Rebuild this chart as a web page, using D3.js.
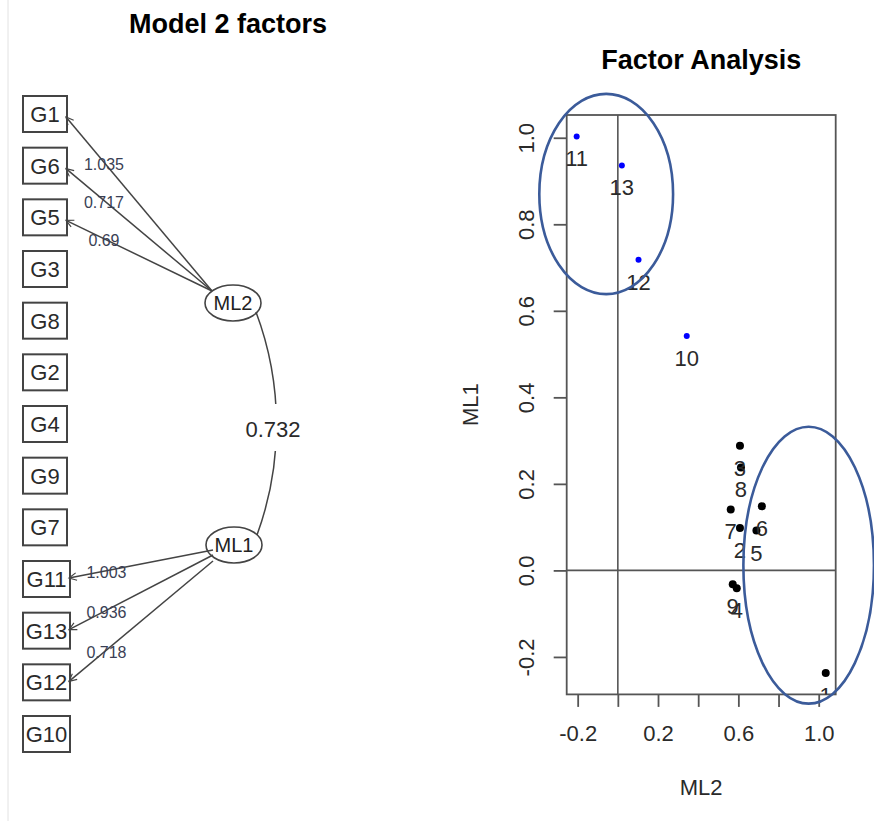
<!DOCTYPE html>
<html>
<head>
<meta charset="utf-8">
<script src="https://cdn.jsdelivr.net/npm/d3@7"></script>
<style>
  body { margin: 0; background: #fff; }
  svg { display: block; font-family: "Liberation Sans", Arial, sans-serif; }
</style>
</head>
<body>
<svg id="chart" width="874" height="821"></svg>
<script>
// left diagram: variable order top to bottom
const variables = ['G1', 'G6', 'G5', 'G3', 'G8', 'G2', 'G4', 'G9', 'G7', 'G11', 'G13', 'G12', 'G10']
const ml2Items = ['G1', 'G6', 'G5']
const ml2Loadings = [1.035, 0.717, 0.69]
const ml1Items = ['G11', 'G13', 'G12']
const ml1Loadings = [1.003, 0.936, 0.718]
const factorCor = 0.732

// right plot: loadings per item
const itemLabels = ['1', '2', '3', '4', '5', '6', '7', '8', '9', '10', '11', '12', '13']
const itemML2 = [1.035, 0.608, 0.608, 0.592, 0.69, 0.717, 0.562, 0.613, 0.572, 0.343, -0.205, 0.103, 0.02]
const itemML1 = [-0.237, 0.098, 0.288, -0.041, 0.092, 0.148, 0.141, 0.238, -0.032, 0.542, 1.003, 0.718, 0.936]
const itemGroup = [0, 0, 0, 0, 0, 0, 0, 0, 0, 1, 1, 1, 1]
const xTicks = [-0.2, 0, 0.2, 0.4, 0.6, 0.8, 1.0]
const xTickLabels = ['-0.2', '', '0.2', '', '0.6', '', '1.0']
const yTicks = [-0.2, 0, 0.2, 0.4, 0.6, 0.8, 1.0]
// highlight ellipses in data units: [cx, cy, rx, ry]
const ellipses = [[-0.058, 0.87, 0.333, 0.2315], [0.95, 0.012, 0.325, 0.32]]

const svg = d3.select('#chart')
const ink = '#444'

// ---------- LEFT: path diagram ----------
svg.append('line')
  .attr('x1', 8).attr('x2', 8).attr('y1', 0).attr('y2', 821)
  .attr('stroke', '#e2e2e2')

svg.append('text')
  .attr('x', 228).attr('y', 33)
  .attr('text-anchor', 'middle')
  .attr('font-weight', 'bold')
  .attr('font-size', 27)
  .text('Model 2 factors')

const rowY = d3.scalePoint().domain(variables).range([114, 734])

svg.append('defs').append('marker')
  .attr('id', 'arr')
  .attr('markerUnits', 'userSpaceOnUse')
  .attr('markerWidth', 20).attr('markerHeight', 20)
  .attr('viewBox', '-12 -10 24 20')
  .attr('orient', 'auto')
  .append('path')
  .attr('d', 'M-9,-4.5L0,0L-9,4.5')
  .attr('fill', 'none')
  .attr('stroke', ink)
  .attr('stroke-width', 1.4)

const boxW = d => d.length > 2 ? 47 : 44
const boxes = svg.append('g')
boxes.selectAll('rect')
  .data(variables)
  .enter()
  .append('rect')
  .attr('x', 23)
  .attr('y', d => rowY(d) - 18)
  .attr('width', boxW)
  .attr('height', 36)
  .attr('fill', 'none')
  .attr('stroke', ink)
  .attr('stroke-width', 2)
boxes.selectAll('text')
  .data(variables)
  .enter()
  .append('text')
  .attr('x', d => 23 + boxW(d) / 2)
  .attr('y', d => rowY(d))
  .attr('dy', '0.36em')
  .attr('text-anchor', 'middle')
  .attr('font-size', 22)
  .attr('fill', '#2a2a2a')
  .text(d => d)

const factors = [
  {name: 'ML2', cx: 233, cy: 303, items: ml2Items, loads: ml2Loadings, sx: 212, sy: [291, 291, 291]},
  {name: 'ML1', cx: 234, cy: 545, items: ml1Items, loads: ml1Loadings, sx: 213, sy: [550, 555, 561]}
]

// correlation arc between the two factors
const arcTop = [256, factors[0].cy + 9]
const arcBot = [257, factors[1].cy - 10]
svg.append('path')
  .attr('d', `M${arcTop[0]},${arcTop[1]}A321,321 0 0 1 ${arcBot[0]},${arcBot[1]}`)
  .attr('fill', 'none')
  .attr('stroke', ink)
  .attr('stroke-width', 1.5)
svg.append('rect')
  .attr('x', 243).attr('y', 404).attr('width', 62).attr('height', 47)
  .attr('fill', '#fff')
svg.append('text')
  .attr('x', 273).attr('y', 429)
  .attr('dy', '0.36em')
  .attr('text-anchor', 'middle')
  .attr('font-size', 22)
  .attr('fill', '#2a2a2a')
  .text(factorCor)

factors.forEach(function(f) {
  const g = svg.append('g')
  const links = f.items.map((it, i) => ({
    x1: f.sx, y1: f.sy[i], x2: 23 + boxW(it) - 1, y2: rowY(it) + (f.name === 'ML2' ? 3 : -1), v: f.loads[i]
  }))
  g.selectAll('line')
    .data(links)
    .enter()
    .append('line')
    .attr('x1', d => d.x1).attr('y1', d => d.y1)
    .attr('x2', d => d.x2).attr('y2', d => d.y2)
    .attr('stroke', ink)
    .attr('stroke-width', 1.5)
    .attr('marker-end', 'url(#arr)')
  g.selectAll('text.load')
    .data(links)
    .enter()
    .append('text')
    .attr('class', 'load')
    .attr('x', d => d.x1 + 0.74 * (d.x2 - d.x1))
    .attr('y', d => d.y1 + 0.74 * (d.y2 - d.y1) + 2)
    .attr('dy', '0.36em')
    .attr('text-anchor', 'middle')
    .attr('font-size', 16)
    .attr('fill', '#3a3f55')
    .text(d => d.v)
  g.append('ellipse')
    .attr('cx', f.cx).attr('cy', f.cy)
    .attr('rx', 28).attr('ry', 18)
    .attr('fill', 'none')
    .attr('stroke', ink)
    .attr('stroke-width', 1.6)
  g.append('text')
    .attr('x', f.cx).attr('y', f.cy)
    .attr('dy', '0.36em')
    .attr('text-anchor', 'middle')
    .attr('font-size', 20)
    .attr('fill', '#222')
    .text(f.name)
})

// ---------- RIGHT: factor loadings scatter ----------
const pad = e => { const s = e[1] - e[0]; return [e[0] - 0.04 * s, e[1] + 0.04 * s] }
const x = d3.scaleLinear().domain(pad(d3.extent(itemML2))).range([566.7, 835.7])
const y = d3.scaleLinear().domain(pad(d3.extent(itemML1))).range([694.4, 115])
const [px0, px1] = x.range()
const [py0, py1] = y.range()

svg.append('text')
  .attr('x', (px0 + px1) / 2).attr('y', 69)
  .attr('text-anchor', 'middle')
  .attr('font-weight', 'bold')
  .attr('font-size', 27)
  .text('Factor Analysis')

svg.append('clipPath').attr('id', 'plotclip')
  .append('rect')
  .attr('x', px0).attr('y', py1).attr('width', px1 - px0).attr('height', py0 - py1)

const xAxis = d3.axisBottom(x).tickValues(xTicks).tickSize(12.5).tickPadding(18)
  .tickFormat((d, i) => xTickLabels[i])
const gx = svg.append('g').attr('transform', `translate(0,${py0})`).call(xAxis)
gx.select('.domain').remove()
gx.selectAll('line').attr('stroke', '#555').attr('stroke-width', 1.8)
gx.selectAll('text').attr('font-size', 22).attr('fill', '#2a2a2a')
  .attr('font-family', '"Liberation Sans", Arial, sans-serif')

const yAxis = d3.axisLeft(y).tickValues(yTicks).tickSize(13).tickFormat(d => d.toFixed(1))
const gy = svg.append('g').attr('transform', `translate(${px0},0)`).call(yAxis)
gy.select('.domain').remove()
gy.selectAll('line').attr('stroke', '#555').attr('stroke-width', 1.8)
gy.selectAll('text')
  .attr('font-size', 22).attr('fill', '#2a2a2a')
  .attr('font-family', '"Liberation Sans", Arial, sans-serif')
  .attr('x', null)
  .attr('text-anchor', 'middle')
  .attr('transform', 'translate(-41,0) rotate(-90)')
  .attr('y', 0)
  .attr('dy', '0.36em')

// box and reference lines
svg.append('rect')
  .attr('x', px0).attr('y', py1).attr('width', px1 - px0).attr('height', py0 - py1)
  .attr('fill', 'none').attr('stroke', '#555').attr('stroke-width', 1.8)
svg.append('line')
  .attr('x1', x(0)).attr('x2', x(0)).attr('y1', py1).attr('y2', py0)
  .attr('stroke', '#555').attr('stroke-width', 1.6)
svg.append('line')
  .attr('x1', px0).attr('x2', px1).attr('y1', y(0)).attr('y2', y(0))
  .attr('stroke', '#555').attr('stroke-width', 1.6)

svg.append('text')
  .attr('x', (px0 + px1) / 2).attr('y', 787)
  .attr('dy', '0.36em')
  .attr('text-anchor', 'middle')
  .attr('font-size', 22).attr('fill', '#2a2a2a')
  .text('ML2')
svg.append('text')
  .attr('transform', `translate(470,${(py0 + py1) / 2}) rotate(-90)`)
  .attr('dy', '0.36em')
  .attr('text-anchor', 'middle')
  .attr('font-size', 22).attr('fill', '#2a2a2a')
  .text('ML1')

const items = itemLabels.map((l, i) => ({label: l, mx: itemML2[i], my: itemML1[i], grp: itemGroup[i]}))
const pts = svg.append('g').attr('clip-path', 'url(#plotclip)')
pts.selectAll('circle')
  .data(items)
  .enter()
  .append('circle')
  .attr('cx', d => x(d.mx))
  .attr('cy', d => y(d.my))
  .attr('r', d => d.grp ? 3 : 4)
  .attr('fill', d => d.grp ? '#0000ff' : '#000')
pts.selectAll('text')
  .data(items)
  .enter()
  .append('text')
  .attr('x', d => x(d.mx))
  .attr('y', d => y(d.my) + 22)
  .attr('dy', '0.36em')
  .attr('text-anchor', 'middle')
  .attr('font-size', 22)
  .attr('fill', '#2a2a2a')
  .text(d => d.label)

svg.append('g').selectAll('ellipse')
  .data(ellipses)
  .enter()
  .append('ellipse')
  .attr('cx', d => x(d[0]))
  .attr('cy', d => y(d[1]))
  .attr('rx', d => x(d[2]) - x(0))
  .attr('ry', d => y(0) - y(d[3]))
  .attr('fill', 'none')
  .attr('stroke', '#3b5b9a')
  .attr('stroke-width', 2.6)
</script>
</body>
</html>
